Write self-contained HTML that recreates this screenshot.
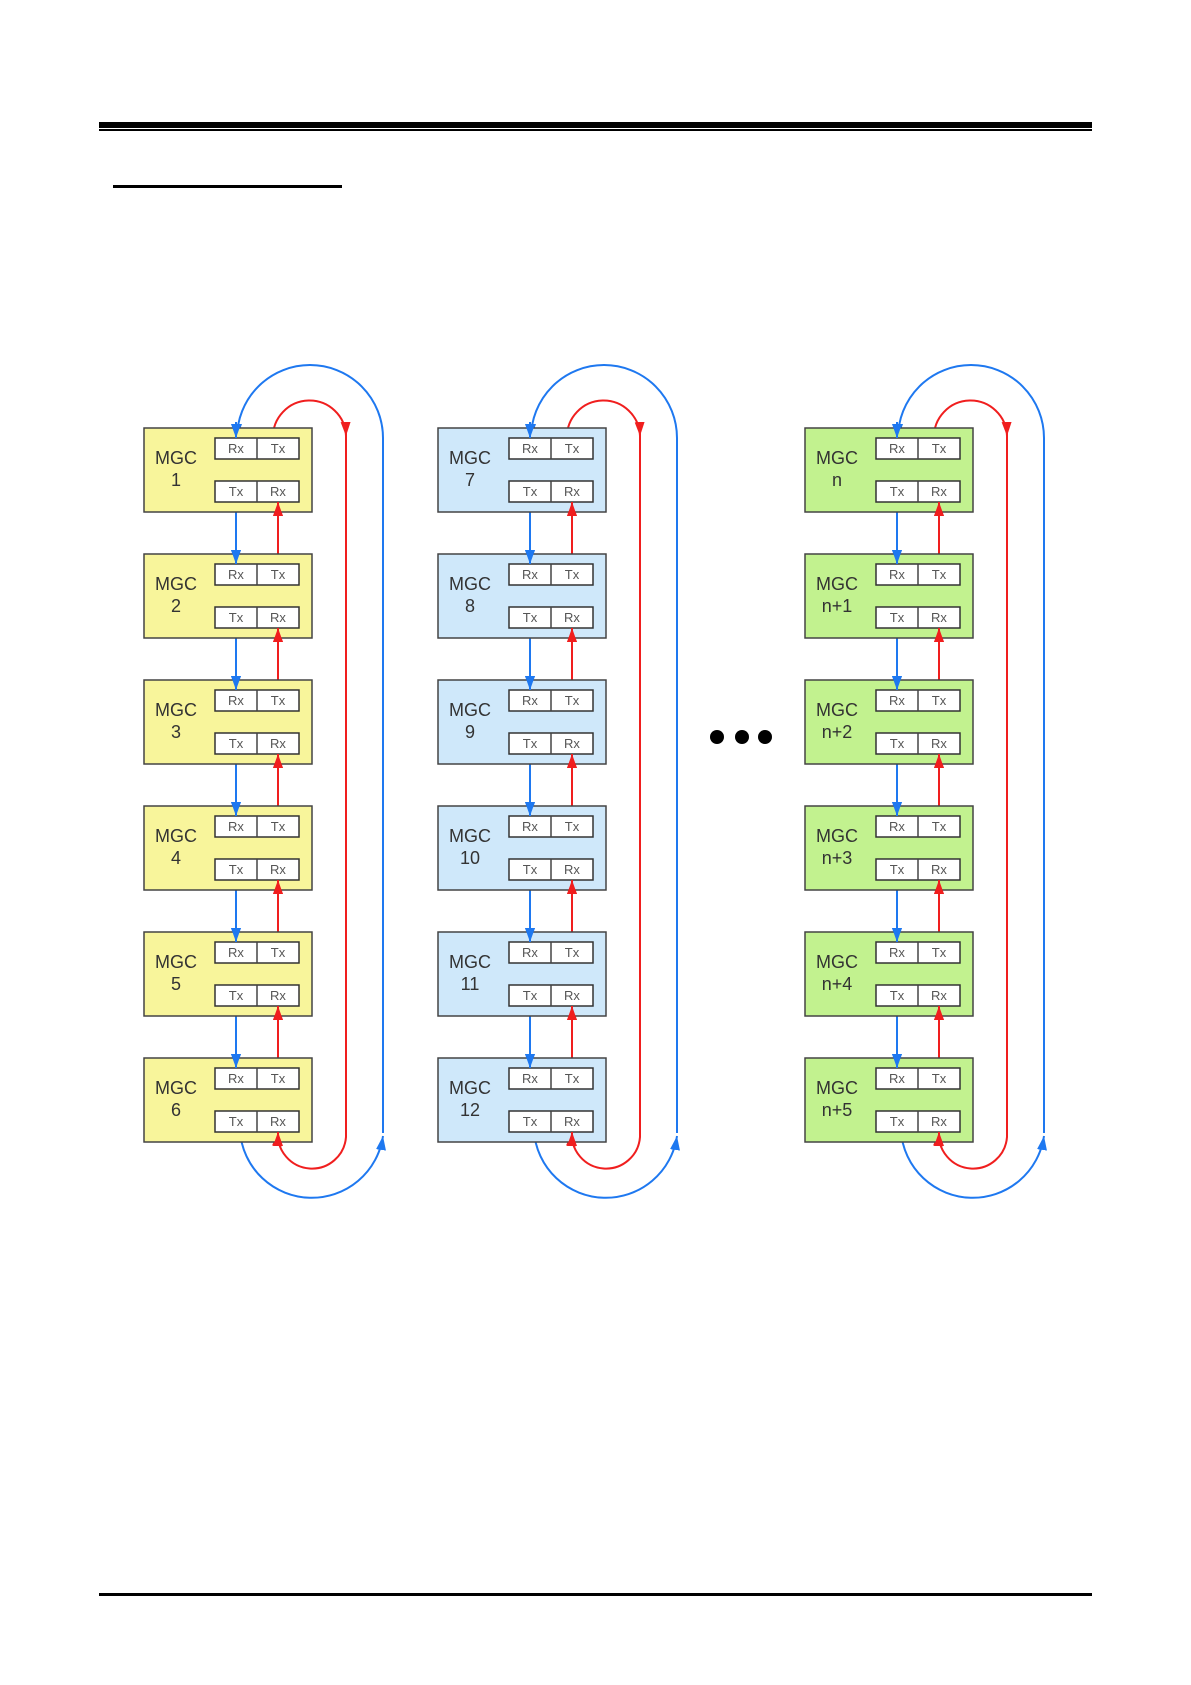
<!DOCTYPE html>
<html><head><meta charset="utf-8"><style>
html,body{margin:0;padding:0;background:#fff}
svg{display:block}
</style></head><body>
<svg width="1191" height="1685" viewBox="0 0 1191 1685" xmlns="http://www.w3.org/2000/svg" font-family="Liberation Sans, sans-serif">
<defs>
<marker id="ab" viewBox="0 0 14 10" refX="14" refY="5" markerWidth="14" markerHeight="10" markerUnits="userSpaceOnUse" orient="auto"><path d="M0,0 L14,5 L0,10 Z" fill="#1e78f0"/></marker>
<marker id="ar" viewBox="0 0 14 10" refX="14" refY="5" markerWidth="14" markerHeight="10" markerUnits="userSpaceOnUse" orient="auto"><path d="M0,0 L14,5 L0,10 Z" fill="#f01e1e"/></marker>
</defs>
<rect x="99" y="122" width="993" height="6" fill="#000"/>
<rect x="99" y="129" width="993" height="2" fill="#000"/>
<rect x="113" y="185" width="229" height="3" fill="#000"/>
<rect x="99" y="1593" width="993" height="3" fill="#000"/>
<circle cx="717" cy="737" r="7"/><circle cx="742" cy="737" r="7"/><circle cx="765" cy="737" r="7"/>

<g transform="translate(144,0)" fill="none" stroke-width="2">
<g stroke="#1e78f0">
<path d="M239 1133 L239 438 A73 73 0 0 0 93 438" marker-end="url(#ab)"/>
<path d="M96 1132 A72 72 0 0 0 239 1136" marker-end="url(#ab)"/>
<path d="M92 502 L92 564" marker-end="url(#ab)"/><path d="M92 628 L92 690" marker-end="url(#ab)"/><path d="M92 754 L92 816" marker-end="url(#ab)"/><path d="M92 880 L92 942" marker-end="url(#ab)"/><path d="M92 1006 L92 1068" marker-end="url(#ab)"/>
</g>
<g stroke="#f01e1e">
<path d="M129 438 A36.5 36.5 0 0 1 202 436" marker-end="url(#ar)"/>
<path d="M202 432 L202 1137 A34 34 0 0 1 134 1132" marker-end="url(#ar)"/>
<path d="M134 564 L134 502" marker-end="url(#ar)"/><path d="M134 690 L134 628" marker-end="url(#ar)"/><path d="M134 816 L134 754" marker-end="url(#ar)"/><path d="M134 942 L134 880" marker-end="url(#ar)"/><path d="M134 1068 L134 1006" marker-end="url(#ar)"/>
</g>
</g>
<g transform="translate(438,0)" fill="none" stroke-width="2">
<g stroke="#1e78f0">
<path d="M239 1133 L239 438 A73 73 0 0 0 93 438" marker-end="url(#ab)"/>
<path d="M96 1132 A72 72 0 0 0 239 1136" marker-end="url(#ab)"/>
<path d="M92 502 L92 564" marker-end="url(#ab)"/><path d="M92 628 L92 690" marker-end="url(#ab)"/><path d="M92 754 L92 816" marker-end="url(#ab)"/><path d="M92 880 L92 942" marker-end="url(#ab)"/><path d="M92 1006 L92 1068" marker-end="url(#ab)"/>
</g>
<g stroke="#f01e1e">
<path d="M129 438 A36.5 36.5 0 0 1 202 436" marker-end="url(#ar)"/>
<path d="M202 432 L202 1137 A34 34 0 0 1 134 1132" marker-end="url(#ar)"/>
<path d="M134 564 L134 502" marker-end="url(#ar)"/><path d="M134 690 L134 628" marker-end="url(#ar)"/><path d="M134 816 L134 754" marker-end="url(#ar)"/><path d="M134 942 L134 880" marker-end="url(#ar)"/><path d="M134 1068 L134 1006" marker-end="url(#ar)"/>
</g>
</g>
<g transform="translate(805,0)" fill="none" stroke-width="2">
<g stroke="#1e78f0">
<path d="M239 1133 L239 438 A73 73 0 0 0 93 438" marker-end="url(#ab)"/>
<path d="M96 1132 A72 72 0 0 0 239 1136" marker-end="url(#ab)"/>
<path d="M92 502 L92 564" marker-end="url(#ab)"/><path d="M92 628 L92 690" marker-end="url(#ab)"/><path d="M92 754 L92 816" marker-end="url(#ab)"/><path d="M92 880 L92 942" marker-end="url(#ab)"/><path d="M92 1006 L92 1068" marker-end="url(#ab)"/>
</g>
<g stroke="#f01e1e">
<path d="M129 438 A36.5 36.5 0 0 1 202 436" marker-end="url(#ar)"/>
<path d="M202 432 L202 1137 A34 34 0 0 1 134 1132" marker-end="url(#ar)"/>
<path d="M134 564 L134 502" marker-end="url(#ar)"/><path d="M134 690 L134 628" marker-end="url(#ar)"/><path d="M134 816 L134 754" marker-end="url(#ar)"/><path d="M134 942 L134 880" marker-end="url(#ar)"/><path d="M134 1068 L134 1006" marker-end="url(#ar)"/>
</g>
</g>

<style>
.b{stroke:#444;stroke-width:1.5}
.p{fill:#fff;stroke:#333;stroke-width:1.5}
.s{font-size:13px;fill:#555;text-anchor:middle}
.m{font-size:18px;fill:#333;text-anchor:middle}
.y{fill:#f8f59b}.l{fill:#cfe8fa}.g{fill:#c2f28f}
</style>

<g transform="translate(144,428)"><rect class="b y" width="168" height="84"/><rect class="p" x="71" y="10" width="84" height="21"/><line class="b" x1="113" y1="10" x2="113" y2="31"/><rect class="p" x="71" y="53" width="84" height="21"/><line class="b" x1="113" y1="53" x2="113" y2="74"/><text class="s" x="92" y="25">Rx</text><text class="s" x="134" y="25">Tx</text><text class="s" x="92" y="68">Tx</text><text class="s" x="134" y="68">Rx</text><text class="m" x="32" y="36">MGC</text><text class="m" x="32" y="58">1</text></g>
<g transform="translate(144,554)"><rect class="b y" width="168" height="84"/><rect class="p" x="71" y="10" width="84" height="21"/><line class="b" x1="113" y1="10" x2="113" y2="31"/><rect class="p" x="71" y="53" width="84" height="21"/><line class="b" x1="113" y1="53" x2="113" y2="74"/><text class="s" x="92" y="25">Rx</text><text class="s" x="134" y="25">Tx</text><text class="s" x="92" y="68">Tx</text><text class="s" x="134" y="68">Rx</text><text class="m" x="32" y="36">MGC</text><text class="m" x="32" y="58">2</text></g>
<g transform="translate(144,680)"><rect class="b y" width="168" height="84"/><rect class="p" x="71" y="10" width="84" height="21"/><line class="b" x1="113" y1="10" x2="113" y2="31"/><rect class="p" x="71" y="53" width="84" height="21"/><line class="b" x1="113" y1="53" x2="113" y2="74"/><text class="s" x="92" y="25">Rx</text><text class="s" x="134" y="25">Tx</text><text class="s" x="92" y="68">Tx</text><text class="s" x="134" y="68">Rx</text><text class="m" x="32" y="36">MGC</text><text class="m" x="32" y="58">3</text></g>
<g transform="translate(144,806)"><rect class="b y" width="168" height="84"/><rect class="p" x="71" y="10" width="84" height="21"/><line class="b" x1="113" y1="10" x2="113" y2="31"/><rect class="p" x="71" y="53" width="84" height="21"/><line class="b" x1="113" y1="53" x2="113" y2="74"/><text class="s" x="92" y="25">Rx</text><text class="s" x="134" y="25">Tx</text><text class="s" x="92" y="68">Tx</text><text class="s" x="134" y="68">Rx</text><text class="m" x="32" y="36">MGC</text><text class="m" x="32" y="58">4</text></g>
<g transform="translate(144,932)"><rect class="b y" width="168" height="84"/><rect class="p" x="71" y="10" width="84" height="21"/><line class="b" x1="113" y1="10" x2="113" y2="31"/><rect class="p" x="71" y="53" width="84" height="21"/><line class="b" x1="113" y1="53" x2="113" y2="74"/><text class="s" x="92" y="25">Rx</text><text class="s" x="134" y="25">Tx</text><text class="s" x="92" y="68">Tx</text><text class="s" x="134" y="68">Rx</text><text class="m" x="32" y="36">MGC</text><text class="m" x="32" y="58">5</text></g>
<g transform="translate(144,1058)"><rect class="b y" width="168" height="84"/><rect class="p" x="71" y="10" width="84" height="21"/><line class="b" x1="113" y1="10" x2="113" y2="31"/><rect class="p" x="71" y="53" width="84" height="21"/><line class="b" x1="113" y1="53" x2="113" y2="74"/><text class="s" x="92" y="25">Rx</text><text class="s" x="134" y="25">Tx</text><text class="s" x="92" y="68">Tx</text><text class="s" x="134" y="68">Rx</text><text class="m" x="32" y="36">MGC</text><text class="m" x="32" y="58">6</text></g>

<g transform="translate(438,428)"><rect class="b l" width="168" height="84"/><rect class="p" x="71" y="10" width="84" height="21"/><line class="b" x1="113" y1="10" x2="113" y2="31"/><rect class="p" x="71" y="53" width="84" height="21"/><line class="b" x1="113" y1="53" x2="113" y2="74"/><text class="s" x="92" y="25">Rx</text><text class="s" x="134" y="25">Tx</text><text class="s" x="92" y="68">Tx</text><text class="s" x="134" y="68">Rx</text><text class="m" x="32" y="36">MGC</text><text class="m" x="32" y="58">7</text></g>
<g transform="translate(438,554)"><rect class="b l" width="168" height="84"/><rect class="p" x="71" y="10" width="84" height="21"/><line class="b" x1="113" y1="10" x2="113" y2="31"/><rect class="p" x="71" y="53" width="84" height="21"/><line class="b" x1="113" y1="53" x2="113" y2="74"/><text class="s" x="92" y="25">Rx</text><text class="s" x="134" y="25">Tx</text><text class="s" x="92" y="68">Tx</text><text class="s" x="134" y="68">Rx</text><text class="m" x="32" y="36">MGC</text><text class="m" x="32" y="58">8</text></g>
<g transform="translate(438,680)"><rect class="b l" width="168" height="84"/><rect class="p" x="71" y="10" width="84" height="21"/><line class="b" x1="113" y1="10" x2="113" y2="31"/><rect class="p" x="71" y="53" width="84" height="21"/><line class="b" x1="113" y1="53" x2="113" y2="74"/><text class="s" x="92" y="25">Rx</text><text class="s" x="134" y="25">Tx</text><text class="s" x="92" y="68">Tx</text><text class="s" x="134" y="68">Rx</text><text class="m" x="32" y="36">MGC</text><text class="m" x="32" y="58">9</text></g>
<g transform="translate(438,806)"><rect class="b l" width="168" height="84"/><rect class="p" x="71" y="10" width="84" height="21"/><line class="b" x1="113" y1="10" x2="113" y2="31"/><rect class="p" x="71" y="53" width="84" height="21"/><line class="b" x1="113" y1="53" x2="113" y2="74"/><text class="s" x="92" y="25">Rx</text><text class="s" x="134" y="25">Tx</text><text class="s" x="92" y="68">Tx</text><text class="s" x="134" y="68">Rx</text><text class="m" x="32" y="36">MGC</text><text class="m" x="32" y="58">10</text></g>
<g transform="translate(438,932)"><rect class="b l" width="168" height="84"/><rect class="p" x="71" y="10" width="84" height="21"/><line class="b" x1="113" y1="10" x2="113" y2="31"/><rect class="p" x="71" y="53" width="84" height="21"/><line class="b" x1="113" y1="53" x2="113" y2="74"/><text class="s" x="92" y="25">Rx</text><text class="s" x="134" y="25">Tx</text><text class="s" x="92" y="68">Tx</text><text class="s" x="134" y="68">Rx</text><text class="m" x="32" y="36">MGC</text><text class="m" x="32" y="58">11</text></g>
<g transform="translate(438,1058)"><rect class="b l" width="168" height="84"/><rect class="p" x="71" y="10" width="84" height="21"/><line class="b" x1="113" y1="10" x2="113" y2="31"/><rect class="p" x="71" y="53" width="84" height="21"/><line class="b" x1="113" y1="53" x2="113" y2="74"/><text class="s" x="92" y="25">Rx</text><text class="s" x="134" y="25">Tx</text><text class="s" x="92" y="68">Tx</text><text class="s" x="134" y="68">Rx</text><text class="m" x="32" y="36">MGC</text><text class="m" x="32" y="58">12</text></g>

<g transform="translate(805,428)"><rect class="b g" width="168" height="84"/><rect class="p" x="71" y="10" width="84" height="21"/><line class="b" x1="113" y1="10" x2="113" y2="31"/><rect class="p" x="71" y="53" width="84" height="21"/><line class="b" x1="113" y1="53" x2="113" y2="74"/><text class="s" x="92" y="25">Rx</text><text class="s" x="134" y="25">Tx</text><text class="s" x="92" y="68">Tx</text><text class="s" x="134" y="68">Rx</text><text class="m" x="32" y="36">MGC</text><text class="m" x="32" y="58">n</text></g>
<g transform="translate(805,554)"><rect class="b g" width="168" height="84"/><rect class="p" x="71" y="10" width="84" height="21"/><line class="b" x1="113" y1="10" x2="113" y2="31"/><rect class="p" x="71" y="53" width="84" height="21"/><line class="b" x1="113" y1="53" x2="113" y2="74"/><text class="s" x="92" y="25">Rx</text><text class="s" x="134" y="25">Tx</text><text class="s" x="92" y="68">Tx</text><text class="s" x="134" y="68">Rx</text><text class="m" x="32" y="36">MGC</text><text class="m" x="32" y="58">n+1</text></g>
<g transform="translate(805,680)"><rect class="b g" width="168" height="84"/><rect class="p" x="71" y="10" width="84" height="21"/><line class="b" x1="113" y1="10" x2="113" y2="31"/><rect class="p" x="71" y="53" width="84" height="21"/><line class="b" x1="113" y1="53" x2="113" y2="74"/><text class="s" x="92" y="25">Rx</text><text class="s" x="134" y="25">Tx</text><text class="s" x="92" y="68">Tx</text><text class="s" x="134" y="68">Rx</text><text class="m" x="32" y="36">MGC</text><text class="m" x="32" y="58">n+2</text></g>
<g transform="translate(805,806)"><rect class="b g" width="168" height="84"/><rect class="p" x="71" y="10" width="84" height="21"/><line class="b" x1="113" y1="10" x2="113" y2="31"/><rect class="p" x="71" y="53" width="84" height="21"/><line class="b" x1="113" y1="53" x2="113" y2="74"/><text class="s" x="92" y="25">Rx</text><text class="s" x="134" y="25">Tx</text><text class="s" x="92" y="68">Tx</text><text class="s" x="134" y="68">Rx</text><text class="m" x="32" y="36">MGC</text><text class="m" x="32" y="58">n+3</text></g>
<g transform="translate(805,932)"><rect class="b g" width="168" height="84"/><rect class="p" x="71" y="10" width="84" height="21"/><line class="b" x1="113" y1="10" x2="113" y2="31"/><rect class="p" x="71" y="53" width="84" height="21"/><line class="b" x1="113" y1="53" x2="113" y2="74"/><text class="s" x="92" y="25">Rx</text><text class="s" x="134" y="25">Tx</text><text class="s" x="92" y="68">Tx</text><text class="s" x="134" y="68">Rx</text><text class="m" x="32" y="36">MGC</text><text class="m" x="32" y="58">n+4</text></g>
<g transform="translate(805,1058)"><rect class="b g" width="168" height="84"/><rect class="p" x="71" y="10" width="84" height="21"/><line class="b" x1="113" y1="10" x2="113" y2="31"/><rect class="p" x="71" y="53" width="84" height="21"/><line class="b" x1="113" y1="53" x2="113" y2="74"/><text class="s" x="92" y="25">Rx</text><text class="s" x="134" y="25">Tx</text><text class="s" x="92" y="68">Tx</text><text class="s" x="134" y="68">Rx</text><text class="m" x="32" y="36">MGC</text><text class="m" x="32" y="58">n+5</text></g>

<g fill="none" stroke-width="2">
<g stroke="#1e78f0">
<path d="M236 548 L236 564" marker-end="url(#ab)"/><path d="M236 674 L236 690" marker-end="url(#ab)"/><path d="M236 800 L236 816" marker-end="url(#ab)"/><path d="M236 926 L236 942" marker-end="url(#ab)"/><path d="M236 1052 L236 1068" marker-end="url(#ab)"/>
<path d="M530 548 L530 564" marker-end="url(#ab)"/><path d="M530 674 L530 690" marker-end="url(#ab)"/><path d="M530 800 L530 816" marker-end="url(#ab)"/><path d="M530 926 L530 942" marker-end="url(#ab)"/><path d="M530 1052 L530 1068" marker-end="url(#ab)"/>
<path d="M897 548 L897 564" marker-end="url(#ab)"/><path d="M897 674 L897 690" marker-end="url(#ab)"/><path d="M897 800 L897 816" marker-end="url(#ab)"/><path d="M897 926 L897 942" marker-end="url(#ab)"/><path d="M897 1052 L897 1068" marker-end="url(#ab)"/>
</g>
<g stroke="#f01e1e">
<path d="M278 518 L278 502" marker-end="url(#ar)"/><path d="M278 644 L278 628" marker-end="url(#ar)"/><path d="M278 770 L278 754" marker-end="url(#ar)"/><path d="M278 896 L278 880" marker-end="url(#ar)"/><path d="M278 1022 L278 1006" marker-end="url(#ar)"/>
<path d="M572 518 L572 502" marker-end="url(#ar)"/><path d="M572 644 L572 628" marker-end="url(#ar)"/><path d="M572 770 L572 754" marker-end="url(#ar)"/><path d="M572 896 L572 880" marker-end="url(#ar)"/><path d="M572 1022 L572 1006" marker-end="url(#ar)"/>
<path d="M939 518 L939 502" marker-end="url(#ar)"/><path d="M939 644 L939 628" marker-end="url(#ar)"/><path d="M939 770 L939 754" marker-end="url(#ar)"/><path d="M939 896 L939 880" marker-end="url(#ar)"/><path d="M939 1022 L939 1006" marker-end="url(#ar)"/>
<path d="M278 1146 L278 1132" marker-end="url(#ar)"/><path d="M572 1146 L572 1132" marker-end="url(#ar)"/><path d="M939 1146 L939 1132" marker-end="url(#ar)"/>
</g>
<g stroke="#1e78f0">
<path d="M236 422 L236 438" marker-end="url(#ab)"/><path d="M530 422 L530 438" marker-end="url(#ab)"/><path d="M897 422 L897 438" marker-end="url(#ab)"/>
</g>
</g>
</svg>
</body></html>
